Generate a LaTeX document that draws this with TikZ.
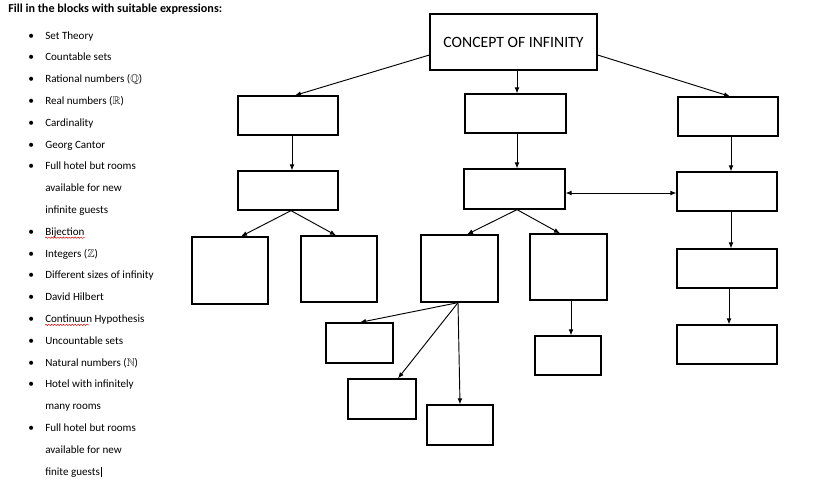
\documentclass[tikz,border=0pt]{standalone}
\usepackage{fontspec}
\usepackage{amssymb}
\setmainfont{Carlito}
\usetikzlibrary{arrows.meta,calc,decorations.pathmorphing}
\begin{document}
\begin{tikzpicture}[x=0.75pt,y=-0.75pt,
  box/.style={draw=black,line width=0.95pt,fill=white,inner sep=0pt},
  conn/.style={line width=0.7pt,-{Latex[length=4.5pt,width=3.6pt]}},
  dconn/.style={line width=0.7pt,{Latex[length=4.5pt,width=3.6pt]}-{Latex[length=4.5pt,width=3.6pt]}},
  item/.style={anchor=base west,inner sep=0pt,font=\fontsize{8.3pt}{9pt}\selectfont},
  bul/.style={anchor=base west,inner sep=0pt,font=\fontsize{8.6pt}{9pt}\selectfont},
  squig/.style={red!80!black,line width=0.35pt,decorate,decoration={snake,amplitude=0.5pt,segment length=2.2pt}}]
\useasboundingbox[fill=white] (0,0) rectangle (830,482);

% ---- left list ----
\node[anchor=base west,inner sep=0pt,font=\fontsize{9.1pt}{10pt}\selectfont\bfseries] (title) at (8,12.5) {Fill in the blocks with suitable expressions:};
\foreach \t [count=\i from 0] in {
  Set Theory,
  Countable sets,
  Rational numbers ($\mathbb{Q}$),
  Real numbers ($\mathbb{R}$),
  Cardinality,
  Georg Cantor,
  Full hotel but rooms,
  available for new,
  infinite guests,
  Bijection,
  Integers ($\mathbb{Z}$),
  Different sizes of infinity,
  David Hilbert,
  Continuun Hypothesis,
  Uncountable sets,
  Natural numbers ($\mathbb{N}$),
  Hotel with infinitely,
  many rooms,
  Full hotel but rooms,
  available for new,
  finite guests}{
  \node[item] (it\i) at (45,{39+21.8*\i}) {\t};
}
\foreach \i in {0,1,2,3,4,5,6,9,10,11,12,13,14,15,16,18}{
  \node[bul] (b\i) at (28,{39+21.8*\i}) {•};
}
\draw[squig] ($(it9.base west)+(0,2.5)$) -- ($(it9.base east)+(0,2.5)$);
\draw[squig] ($(it13.base west)+(0,2.5)$) -- ++(44,0);
\coordinate (cur) at ($(it20.base east)+(1.2,2)$);
\draw[line width=0.7pt] (cur) -- ++(0,-10);

% ---- boxes ----
\node[box,minimum width=167*0.75pt,minimum height=56*0.75pt,font=\fontsize{11.8pt}{13pt}\selectfont] (top) at (513.5,42) {CONCEPT OF INFINITY};
\node[box,minimum width=75pt,minimum height=29.25pt] (A1) at (288,115.5) {};
\node[box,minimum width=75pt,minimum height=29.25pt] (A2) at (288,190.5) {};
\node[box,minimum width=57pt,minimum height=50.25pt] (A3) at (230,270.5) {};
\node[box,minimum width=57pt,minimum height=49.5pt] (A4) at (339,269) {};
\node[box,minimum width=75.75pt,minimum height=29.25pt] (B1) at (515.5,113.5) {};
\node[box,minimum width=75.75pt,minimum height=30pt] (B2) at (514.5,189) {};
\node[box,minimum width=57.75pt,minimum height=50.25pt] (B3) at (459.5,268.5) {};
\node[box,minimum width=57.75pt,minimum height=49.5pt] (B4) at (568.5,267) {};
\node[box,minimum width=50.25pt,minimum height=30pt] (B5) at (359.5,343) {};
\node[box,minimum width=51pt,minimum height=30pt] (B6) at (382,399) {};
\node[box,minimum width=49.5pt,minimum height=30pt] (B7) at (460,425) {};
\node[box,minimum width=49.5pt,minimum height=29.25pt] (B8) at (568,355.5) {};
\node[box,minimum width=75pt,minimum height=29.25pt] (C1) at (728,116.5) {};
\node[box,minimum width=75pt,minimum height=29.25pt] (C2) at (727,191.5) {};
\node[box,minimum width=75pt,minimum height=29.25pt] (C3) at (727,268.5) {};
\node[box,minimum width=75pt,minimum height=29.25pt] (C4) at (727,344.5) {};

% ---- connectors ----
\draw[conn] ($(top.west)+(0,13)$) -- ($(A1.north)+(7,0)$);
\draw[conn] ($(top.south)+(3.5,0)$) -- ($(B1.north)+(1.5,0)$);
\draw[conn] ($(top.east)+(0,13)$) -- ($(C1.north)+(2,0)$);

\draw[conn] ($(A1.south)+(4,0)$) -- ($(A2.north)+(4,0)$);
\draw[conn] ($(A2.south)+(3,0)$) -- ($(A3.north)+(11,0)$);
\draw[conn] ($(A2.south)+(3,0)$) -- ($(A4.north)+(-3,0)$);

\draw[conn] ($(B1.south)+(1.5,0)$) -- ($(B2.north)+(2.5,0)$);
\draw[conn] ($(B2.south)+(2.5,0)$) -- ($(B3.north)+(7.5,0)$);
\draw[conn] ($(B2.south)+(2.5,0)$) -- ($(B4.north)+(-8.5,0)$);
\draw[dconn] ($(B2.east)+(0,4)$) -- ($(C2.west)+(0,1.5)$);

\draw[conn] ($(B3.south)+(-1.5,0)$) -- ($(B5.north)+(0.5,0)$);
\draw[conn] ($(B3.south)+(-1.5,0)$) -- ($(B6.north)+(16,0)$);
\draw[conn] ($(B3.south)+(-1.5,0)$) -- ($(B7.north)+(0,0)$);
\draw[conn] ($(B4.south)+(2.5,0)$) -- ($(B8.north)+(3,0)$);

\draw[conn] ($(C1.south)+(3,0)$) -- ($(C2.north)+(4,0)$);
\draw[conn] ($(C2.south)+(4,0)$) -- ($(C3.north)+(4,0)$);
\draw[conn] ($(C3.south)+(2,0)$) -- ($(C4.north)+(2,0)$);
\end{tikzpicture}
\end{document}
